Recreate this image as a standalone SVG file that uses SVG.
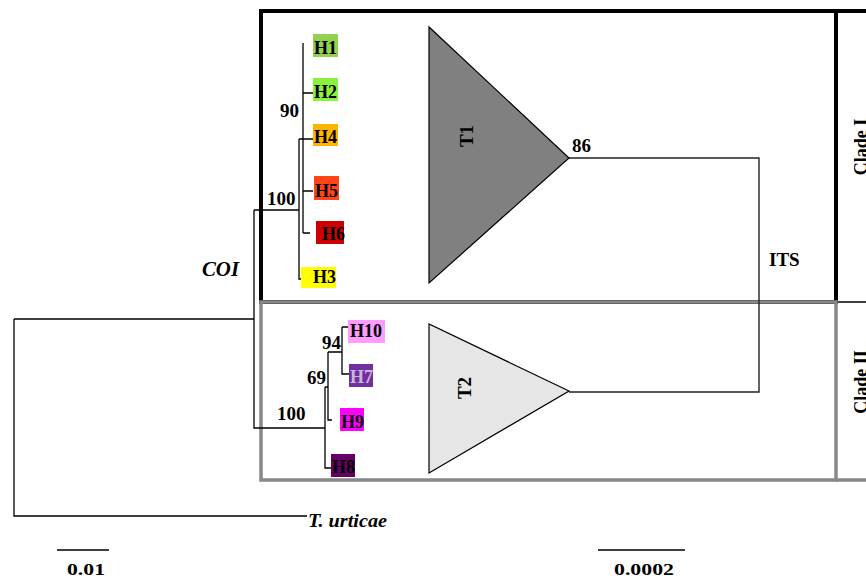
<svg xmlns="http://www.w3.org/2000/svg" width="866" height="579" viewBox="0 0 866 579">
<style>
.t{font-family:"Liberation Serif","Times New Roman",serif;font-weight:bold;fill:#000}
.h{font-size:18px}
.n{font-size:19px}
.i{font-style:italic}
.br{fill:none;stroke:#000;stroke-width:1.3}
.cn{fill:none;stroke:#222;stroke-width:1.4}
</style>
<rect width="866" height="579" fill="#fff"/>
<g id="frames">
<rect x="261" y="11" width="575" height="291" fill="none" stroke="#000" stroke-width="4"/>
<line x1="836" y1="11" x2="866" y2="11" stroke="#000" stroke-width="4"/>
<line x1="836" y1="302" x2="866" y2="302" stroke="#000" stroke-width="1.5"/>
<rect x="261" y="302" width="575" height="178" fill="none" stroke="#888" stroke-width="3.5"/>
<line x1="836" y1="480" x2="866" y2="480" stroke="#888" stroke-width="3.5"/>
<text class="t" font-size="18" text-anchor="middle" transform="translate(867,147) rotate(-90)">Clade I</text>
<text class="t" font-size="18" text-anchor="middle" transform="translate(867,382) rotate(-90)">Clade II</text>
</g>
<g id="connectors">
<path class="br" d="M303,43V233M303,93H313M303,191H313M303,233H310M299,139H313M299,139V279H308M254,210H299"/>
<path class="br" d="M254,210V428H325M14,319H254M14,319V516H307"/>
<path class="br" d="M342,327V374H349M342,327H348M328,352H342M328,352V420H332M325,387H328M325,387V468H331"/>
<path class="cn" d="M569,158H759V392H569"/>
<path class="br" d="M57,550H109M598,550H685"/>
</g>
<g id="H1"><rect x="313" y="34" width="25" height="23" fill="#92D050"/><text class="t h" x="314" y="54">H1</text></g>
<g id="H2"><rect x="313" y="78" width="25" height="23" fill="#88F23C"/><text class="t h" x="314" y="98">H2</text></g>
<g id="H4"><rect x="313" y="124" width="25" height="22" fill="#FFB400"/><text class="t h" x="314" y="143">H4</text></g>
<g id="H5"><rect x="314" y="176" width="25" height="24" fill="#FF4518"/><text class="t h" x="315" y="197">H5</text></g>
<g id="H6"><rect x="316" y="221" width="28" height="23" fill="#CC0000"/><text class="t h" x="322" y="240">H6</text></g>
<g id="H3"><rect x="301" y="267" width="35" height="21" fill="#FFFF00"/><text class="t h" x="313" y="283">H3</text></g>
<g id="H10"><rect x="348" y="320" width="37" height="23" fill="#FF9CFF"/><text class="t h" x="350" y="337">H10</text></g>
<g id="H7"><rect x="349" y="364" width="24" height="23" fill="#7030A0"/><text class="t h" x="350" y="383" style="fill:#C8B8D8">H7</text></g>
<g id="H9"><rect x="340" y="408" width="24" height="23" fill="#FF00FF"/><text class="t h" x="341" y="428">H9</text></g>
<g id="H8"><rect x="331" y="454" width="24" height="23" fill="#660066"/><text class="t h" x="332" y="473">H8</text></g>
<g id="T1"><polygon points="429,27 429,283 569,158" fill="#808080" stroke="#000" stroke-width="1.2"/><text class="t n" text-anchor="middle" transform="translate(473,136) rotate(-90)">T1</text></g>
<g id="T2"><polygon points="429,324 429,473 569,391" fill="#E6E6E6" stroke="#000" stroke-width="1.2"/><text class="t n" text-anchor="middle" transform="translate(471,388) rotate(-90)">T2</text></g>
<g id="labels">
<text class="t n" x="280" y="117">90</text>
<text class="t n" x="267" y="205">100</text>
<text class="t n" x="322" y="349">94</text>
<text class="t n" x="307" y="384">69</text>
<text class="t n" x="277" y="420">100</text>
<text class="t n" x="572" y="152">86</text>
<text class="t n" x="769" y="266">ITS</text>
<text class="t i" font-size="20" x="202" y="276" textLength="37" lengthAdjust="spacingAndGlyphs">COI</text>
<text class="t i" font-size="18" x="308" y="527" textLength="79" lengthAdjust="spacingAndGlyphs">T. urticae</text>
<text class="t" font-size="17" x="67" y="575" textLength="38" lengthAdjust="spacingAndGlyphs">0.01</text>
<text class="t" font-size="17" x="614" y="575" textLength="60" lengthAdjust="spacingAndGlyphs">0.0002</text>
</g>
</svg>
